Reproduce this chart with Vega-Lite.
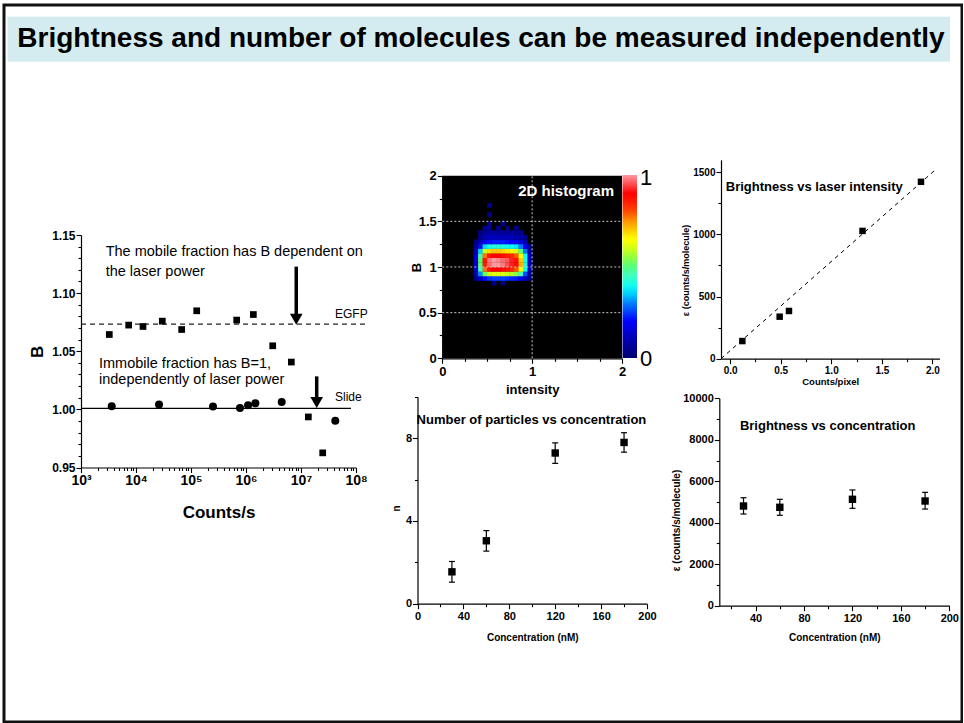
{
"$schema":"https://vega.github.io/schema/vega-lite/v6.json",
"width":958,"height":717,
"autosize":{"type":"none"},
"padding":{"left":4,"top":5,"right":1,"bottom":1},
"background":"white",
"config":{
 "view":{"stroke":"#111111","strokeWidth":3},
 "font":"Liberation Sans",
 "text":{"font":"Liberation Sans"},
 "axis":{"labelFont":"Liberation Sans","titleFont":"Liberation Sans","labelFontWeight":"bold","titleFontWeight":"bold","labelColor":"#000","titleColor":"#000","domainColor":"#000","tickColor":"#000","grid":false,"labelOverlap":false,"labelFlush":false,"titleBaseline":"middle","domainWidth":1.2,"tickWidth":1.1}
},
"resolve":{"scale":{"x":"independent","y":"independent"},"axis":{"x":"independent","y":"independent"}},
"layer":[
{
 "data":{"values":[{"x":0,"x2":1,"y":0,"y2":1}]},
 "encoding":{
  "x":{"field":"x","type":"quantitative","scale":{"domain":[0,1],"range":[3.5,946],"nice":false,"zero":false},"axis":null},
  "y":{"field":"y","type":"quantitative","scale":{"domain":[0,1],"range":[56.7,11.7],"nice":false,"zero":false},"axis":null}
 },
 "layer":[
  {"mark":{"type":"rect","fill":"#d4ecef"},"encoding":{"x2":{"field":"x2"},"y2":{"field":"y2"}}},
  {"data":{"values":[{"x":0.0104,"y":0.5,"t":"Brightness and number of molecules can be measured independently"}]},
   "mark":{"type":"text","align":"left","baseline":"middle","fontSize":28,"fontWeight":"bold","color":"#000"},
   "encoding":{"text":{"field":"t"}}}
 ]
},
{
 "encoding":{
  "x":{"field":"c","type":"quantitative","scale":{"type":"log","domain":[1000,100000000],"range":[77,352],"nice":false},
   "axis":{"orient":"bottom","offset":-254.5,
    "values":[1000,2000,3000,4000,5000,6000,7000,8000,9000,10000,20000,30000,40000,50000,60000,70000,80000,90000,100000,200000,300000,400000,500000,600000,700000,800000,900000,1000000,2000000,3000000,4000000,5000000,6000000,7000000,8000000,9000000,10000000,20000000,30000000,40000000,50000000,60000000,70000000,80000000,90000000,100000000],
    "labelExpr":"abs(log(datum.value)/LN10 - round(log(datum.value)/LN10)) < 0.01 ? '10' + ['⁰','¹','²','³','⁴','⁵','⁶','⁷','⁸','⁹'][round(log(datum.value)/LN10)] : ''",
    "tickSize":{"condition":{"test":"abs(log(datum.value)/LN10 - round(log(datum.value)/LN10)) < 0.01","value":5},"value":3},
    "labelFontSize":14,"labelPadding":1,"title":"Counts/s","titleFontSize":17,"titleY":45}},
  "y":{"field":"b","type":"quantitative","scale":{"domain":[0.95,1.15],"range":[462.5,230],"nice":false,"zero":false},
   "axis":{"orient":"left","offset":-77,
    "values":[0.95,0.96,0.97,0.98,0.99,1.0,1.01,1.02,1.03,1.04,1.05,1.06,1.07,1.08,1.09,1.1,1.11,1.12,1.13,1.14,1.15],
    "labelExpr":"abs(datum.value*20-round(datum.value*20))<0.01 ? format(datum.value,'.2f') : ''",
    "tickSize":{"condition":{"test":"abs(datum.value*20-round(datum.value*20))<0.01","value":5},"value":3},
    "labelFontSize":12,"labelPadding":1,"title":"B","titleFontSize":17,"titleX":-44}}
 },
 "layer":[
  {"data":{"values":[{"c":1000,"c2":150000000,"b":1.0733}]},"mark":{"type":"rule","strokeDash":[5,4],"strokeWidth":1.2,"color":"#222"},"encoding":{"x2":{"field":"c2"}}},
  {"data":{"values":[{"c":1000,"c2":81000000,"b":1.0009}]},"mark":{"type":"rule","strokeWidth":1.3,"color":"#000"},"encoding":{"x2":{"field":"c2"}}},
  {"data":{"values":[{"c":3270,"b":1.0644},{"c":7360,"b":1.0725},{"c":13400,"b":1.0713},{"c":30060,"b":1.0759},{"c":67700,"b":1.0687},{"c":127000,"b":1.0848},{"c":677000,"b":1.0768},{"c":1360000,"b":1.0816},{"c":3060000,"b":1.0547},{"c":6670000,"b":1.0407},{"c":13600000,"b":0.9935},{"c":24800000,"b":0.9626}]},
   "mark":{"type":"point","shape":"square","filled":true,"size":45,"color":"#000","opacity":1,"strokeWidth":0}},
  {"data":{"values":[{"c":3615,"b":1.0026},{"c":26200,"b":1.0043},{"c":251000,"b":1.0024},{"c":778000,"b":1.0012},{"c":1090000,"b":1.0035},{"c":1480000,"b":1.0052},{"c":4460000,"b":1.0064},{"c":42000000,"b":0.9903}]},
   "mark":{"type":"point","shape":"circle","filled":true,"size":64,"color":"#000","opacity":1,"strokeWidth":0}},
  {"data":{"values":[{"c":8200000,"b":1.1228,"b2":1.0805},{"c":19300000,"b":1.0284,"b2":1.0084}]},"mark":{"type":"rule","strokeWidth":3.5,"color":"#000"},"encoding":{"y2":{"field":"b2"}}},
  {"data":{"values":[{"c":8200000,"b":1.0775},{"c":19300000,"b":1.006}]},"mark":{"type":"point","shape":"triangle-down","filled":true,"size":160,"color":"#000","opacity":1,"strokeWidth":0}},
  {"data":{"values":[{"c":2810,"b":1.1354,"t":"The mobile fraction has B dependent on"},{"c":2810,"b":1.1185,"t":"the laser power"},{"c":2125,"b":1.0393,"t":"Immobile fraction has B=1,"},{"c":2125,"b":1.0255,"t":"independently of laser power"}]},
   "mark":{"type":"text","align":"left","baseline":"middle","fontSize":14.5,"color":"#000"},"encoding":{"text":{"field":"t"}}},
  {"data":{"values":[{"c":41500000,"b":1.0822,"t":"EGFP"},{"c":41500000,"b":1.0103,"t":"Slide"}]},
   "mark":{"type":"text","align":"left","baseline":"middle","fontSize":12,"color":"#000"},"encoding":{"text":{"field":"t"}}}
 ]
},
{
 "encoding":{
  "x":{"field":"i","type":"quantitative","scale":{"domain":[0,2],"range":[438.3,618],"nice":false,"zero":false},
   "axis":{"orient":"bottom","offset":-363.7,"values":[0,0.25,0.5,0.75,1,1.25,1.5,1.75,2],
    "labelExpr":"datum.value % 1 == 0 ? format(datum.value,'d') : ''",
    "tickSize":{"condition":{"test":"datum.value % 1 == 0","value":5},"value":3},
    "labelFontSize":13,"labelPadding":2,"title":"intensity","titleFontSize":13,"titleY":31.2}},
  "y":{"field":"b","type":"quantitative","scale":{"domain":[0,2],"range":[353.3,170.7],"nice":false,"zero":false},
   "axis":{"orient":"left","offset":-438.3,"values":[0,0.25,0.5,0.75,1,1.25,1.5,1.75,2],
    "labelExpr":"(datum.value*2) % 1 == 0 ? format(datum.value,'~g') : ''",
    "tickSize":{"condition":{"test":"(datum.value*2) % 1 == 0","value":5},"value":3},
    "labelFontSize":13,"labelPadding":1,"title":"B","titleFontSize":13,"titleX":-25.6}}
 },
 "layer":[
  {"data":{"values":[{"i":0,"i2":2,"b":0,"b2":2}]},"mark":{"type":"rect","fill":"#000"},"encoding":{"x2":{"field":"i2"},"y2":{"field":"b2"}}},
  {"data":{"values":[
{"i":0.575,"b":0.825,"v":0.04},{"i":0.675,"b":0.825,"v":0.03},
{"i":0.375,"b":0.875,"v":0.04},{"i":0.425,"b":0.875,"v":0.13},{"i":0.475,"b":0.875,"v":0.21},{"i":0.525,"b":0.875,"v":0.24},{"i":0.575,"b":0.875,"v":0.25},{"i":0.625,"b":0.875,"v":0.25},{"i":0.675,"b":0.875,"v":0.25},{"i":0.725,"b":0.875,"v":0.24},{"i":0.775,"b":0.875,"v":0.23},{"i":0.825,"b":0.875,"v":0.22},{"i":0.875,"b":0.875,"v":0.18},{"i":0.925,"b":0.875,"v":0.1},{"i":0.975,"b":0.875,"v":0.03},
{"i":0.375,"b":0.925,"v":0.09},{"i":0.425,"b":0.925,"v":0.31},{"i":0.475,"b":0.925,"v":0.53},{"i":0.525,"b":0.925,"v":0.6},{"i":0.575,"b":0.925,"v":0.62},{"i":0.625,"b":0.925,"v":0.62},{"i":0.675,"b":0.925,"v":0.61},{"i":0.725,"b":0.925,"v":0.59},{"i":0.775,"b":0.925,"v":0.57},{"i":0.825,"b":0.925,"v":0.55},{"i":0.875,"b":0.925,"v":0.45},{"i":0.925,"b":0.925,"v":0.26},{"i":0.975,"b":0.925,"v":0.07},
{"i":0.375,"b":0.975,"v":0.14},{"i":0.425,"b":0.975,"v":0.45},{"i":0.475,"b":0.975,"v":0.77},{"i":0.525,"b":0.975,"v":0.87},{"i":0.575,"b":0.975,"v":0.9},{"i":0.625,"b":0.975,"v":0.9},{"i":0.675,"b":0.975,"v":0.88},{"i":0.725,"b":0.975,"v":0.86},{"i":0.775,"b":0.975,"v":0.83},{"i":0.825,"b":0.975,"v":0.79},{"i":0.875,"b":0.975,"v":0.65},{"i":0.925,"b":0.975,"v":0.38},{"i":0.975,"b":0.975,"v":0.11},
{"i":0.375,"b":1.025,"v":0.15},{"i":0.425,"b":1.025,"v":0.5},{"i":0.475,"b":1.025,"v":0.85},{"i":0.525,"b":1.025,"v":0.97},{"i":0.575,"b":1.025,"v":1},{"i":0.625,"b":1.025,"v":1},{"i":0.675,"b":1.025,"v":0.98},{"i":0.725,"b":1.025,"v":0.95},{"i":0.775,"b":1.025,"v":0.92},{"i":0.825,"b":1.025,"v":0.88},{"i":0.875,"b":1.025,"v":0.72},{"i":0.925,"b":1.025,"v":0.42},{"i":0.975,"b":1.025,"v":0.12},
{"i":0.375,"b":1.075,"v":0.16},{"i":0.425,"b":1.075,"v":0.52},{"i":0.475,"b":1.075,"v":0.86},{"i":0.525,"b":1.075,"v":0.98},{"i":0.575,"b":1.075,"v":1},{"i":0.625,"b":1.075,"v":0.99},{"i":0.675,"b":1.075,"v":0.97},{"i":0.725,"b":1.075,"v":0.96},{"i":0.775,"b":1.075,"v":0.92},{"i":0.825,"b":1.075,"v":0.87},{"i":0.875,"b":1.075,"v":0.7},{"i":0.925,"b":1.075,"v":0.4},{"i":0.975,"b":1.075,"v":0.11},
{"i":0.375,"b":1.125,"v":0.14},{"i":0.425,"b":1.125,"v":0.45},{"i":0.475,"b":1.125,"v":0.77},{"i":0.525,"b":1.125,"v":0.87},{"i":0.575,"b":1.125,"v":0.9},{"i":0.625,"b":1.125,"v":0.9},{"i":0.675,"b":1.125,"v":0.88},{"i":0.725,"b":1.125,"v":0.86},{"i":0.775,"b":1.125,"v":0.83},{"i":0.825,"b":1.125,"v":0.79},{"i":0.875,"b":1.125,"v":0.65},{"i":0.925,"b":1.125,"v":0.38},{"i":0.975,"b":1.125,"v":0.11},
{"i":0.375,"b":1.175,"v":0.1},{"i":0.425,"b":1.175,"v":0.35},{"i":0.475,"b":1.175,"v":0.6},{"i":0.525,"b":1.175,"v":0.68},{"i":0.575,"b":1.175,"v":0.7},{"i":0.625,"b":1.175,"v":0.7},{"i":0.675,"b":1.175,"v":0.69},{"i":0.725,"b":1.175,"v":0.67},{"i":0.775,"b":1.175,"v":0.64},{"i":0.825,"b":1.175,"v":0.62},{"i":0.875,"b":1.175,"v":0.5},{"i":0.925,"b":1.175,"v":0.29},{"i":0.975,"b":1.175,"v":0.08},
{"i":0.375,"b":1.225,"v":0.06},{"i":0.425,"b":1.225,"v":0.21},{"i":0.475,"b":1.225,"v":0.36},{"i":0.525,"b":1.225,"v":0.41},{"i":0.575,"b":1.225,"v":0.42},{"i":0.625,"b":1.225,"v":0.42},{"i":0.675,"b":1.225,"v":0.41},{"i":0.725,"b":1.225,"v":0.4},{"i":0.775,"b":1.225,"v":0.39},{"i":0.825,"b":1.225,"v":0.37},{"i":0.875,"b":1.225,"v":0.3},{"i":0.925,"b":1.225,"v":0.18},{"i":0.975,"b":1.225,"v":0.05},
{"i":0.375,"b":1.275,"v":0.03},{"i":0.425,"b":1.275,"v":0.11},{"i":0.475,"b":1.275,"v":0.19},{"i":0.525,"b":1.275,"v":0.21},{"i":0.575,"b":1.275,"v":0.22},{"i":0.625,"b":1.275,"v":0.22},{"i":0.675,"b":1.275,"v":0.22},{"i":0.725,"b":1.275,"v":0.21},{"i":0.775,"b":1.275,"v":0.2},{"i":0.825,"b":1.275,"v":0.19},{"i":0.875,"b":1.275,"v":0.16},{"i":0.925,"b":1.275,"v":0.09},
{"i":0.425,"b":1.325,"v":0.06},{"i":0.475,"b":1.325,"v":0.1},{"i":0.525,"b":1.325,"v":0.12},{"i":0.575,"b":1.325,"v":0.12},{"i":0.625,"b":1.325,"v":0.12},{"i":0.675,"b":1.325,"v":0.12},{"i":0.725,"b":1.325,"v":0.11},{"i":0.775,"b":1.325,"v":0.11},{"i":0.825,"b":1.325,"v":0.1},{"i":0.875,"b":1.325,"v":0.09},{"i":0.925,"b":1.325,"v":0.05},
{"i":0.425,"b":1.375,"v":0.035},{"i":0.475,"b":1.375,"v":0.06},{"i":0.525,"b":1.375,"v":0.07},{"i":0.575,"b":1.375,"v":0.07},{"i":0.625,"b":1.375,"v":0.07},{"i":0.675,"b":1.375,"v":0.07},{"i":0.725,"b":1.375,"v":0.07},{"i":0.775,"b":1.375,"v":0.06},{"i":0.825,"b":1.375,"v":0.06},{"i":0.875,"b":1.375,"v":0.05},
{"i":0.475,"b":1.425,"v":0.05},{"i":0.525,"b":1.425,"v":0.06},{"i":0.625,"b":1.425,"v":0.05},{"i":0.725,"b":1.425,"v":0.04},{"i":0.825,"b":1.425,"v":0.04},
{"i":0.525,"b":1.475,"v":0.04},{"i":0.675,"b":1.475,"v":0.04},
{"i":0.525,"b":1.575,"v":0.04},{"i":0.525,"b":1.675,"v":0.04}
  ]},
   "mark":{"type":"point","shape":"square","filled":true,"size":23,"opacity":1,"strokeWidth":0},
   "encoding":{"color":{"field":"v","type":"quantitative",
     "scale":{"domain":[0,0.1,0.2,0.3,0.38,0.45,0.52,0.58,0.65,0.75,0.82,0.9,1],"range":["#000070","#0000b0","#0000ff","#0080ff","#00ffff","#40ffc0","#60ff60","#c0ff20","#ffff00","#ff9000","#ff3000","#ff0000","#ff9aa0"],"interpolate":"rgb"},
     "legend":{"orient":"none","legendX":618.5,"legendY":170,"direction":"vertical","gradientLength":183,"gradientThickness":14.5,"title":null,"values":[0,1],"labelExpr":"''","padding":0,"gradientStrokeWidth":0}}}},
  {"data":{"values":[{"i":1,"b":0,"b2":2}]},"mark":{"type":"rule","color":"#c8c8c8","strokeDash":[2,2],"strokeWidth":1},"encoding":{"y2":{"field":"b2"}}},
  {"data":{"values":[{"i":0,"i2":2,"b":0.5},{"i":0,"i2":2,"b":1},{"i":0,"i2":2,"b":1.5}]},"mark":{"type":"rule","color":"#c8c8c8","strokeDash":[2,2],"strokeWidth":1},"encoding":{"x2":{"field":"i2"}}},
  {"data":{"values":[{"i":1.911,"b":1.832,"t":"2D histogram"}]},"mark":{"type":"text","align":"right","baseline":"middle","fontSize":15,"fontWeight":"bold","color":"#fff"},"encoding":{"text":{"field":"t"}}},
  {"data":{"values":[{"i":2.2,"b":1.975,"t":"1"},{"i":2.2,"b":-0.005,"t":"0"}]},"mark":{"type":"text","align":"left","baseline":"middle","fontSize":22,"color":"#000"},"encoding":{"text":{"field":"t"}}}
 ]
},
{
 "encoding":{
  "x":{"field":"x","type":"quantitative","scale":{"domain":[-0.09,2.07],"range":[717,935.5],"nice":false,"zero":false},
   "axis":{"orient":"bottom","offset":-363.3,"values":[0,0.25,0.5,0.75,1,1.25,1.5,1.75,2],
    "labelExpr":"(datum.value*2) % 1 == 0 ? format(datum.value,'.1f') : ''",
    "tickSize":{"condition":{"test":"(datum.value*2) % 1 == 0","value":5},"value":3},
    "labelFontSize":10,"labelPadding":2,"title":"Counts/pixel","titleFontSize":9.5,"titleY":22.3}},
  "y":{"field":"y","type":"quantitative","scale":{"domain":[0,1600],"range":[353.7,154.8],"nice":false,"zero":false},
   "axis":{"orient":"left","offset":-717,"values":[0,250,500,750,1000,1250,1500],
    "labelExpr":"datum.value % 500 == 0 ? format(datum.value,'d') : ''",
    "tickSize":{"condition":{"test":"datum.value % 500 == 0","value":5},"value":3},
    "labelFontSize":10,"labelPadding":1,"title":"ε (counts/s/molecule)","titleFontSize":9,"titleX":-35.5,"titleY":265}}
 },
 "layer":[
  {"data":{"values":[{"x":-0.09,"y":0,"x2":2.03,"y2":1520}]},"mark":{"type":"rule","strokeDash":[4,4],"strokeWidth":1,"color":"#000"},"encoding":{"x2":{"field":"x2"},"y2":{"field":"y2"}}},
  {"data":{"values":[{"x":0.121,"y":142},{"x":0.49,"y":338},{"x":0.582,"y":384},{"x":1.309,"y":1028},{"x":1.887,"y":1423}]},
   "mark":{"type":"point","shape":"square","filled":true,"size":42,"color":"#000","opacity":1,"strokeWidth":0}},
  {"data":{"values":[{"x":-0.043,"y":1384,"t":"Brightness vs laser intensity"}]},"mark":{"type":"text","align":"left","baseline":"middle","fontSize":13,"fontWeight":"bold","color":"#000"},"encoding":{"text":{"field":"t"}}}
 ]
},
{
 "data":{"values":[{"x":30,"y":1.54,"lo":1.04,"hi":2.04},{"x":60,"y":3.04,"lo":2.54,"hi":3.53},{"x":120,"y":7.28,"lo":6.78,"hi":7.77},{"x":180,"y":7.79,"lo":7.32,"hi":8.26}]},
 "encoding":{
  "x":{"field":"x","type":"quantitative","scale":{"domain":[0,200],"range":[413.5,643],"nice":false,"zero":false},
   "axis":{"orient":"bottom","offset":-118.3,"values":[0,20,40,60,80,100,120,140,160,180,200],
    "labelExpr":"datum.value % 40 == 0 ? format(datum.value,'d') : ''",
    "tickSize":{"condition":{"test":"datum.value % 40 == 0","value":5},"value":3},
    "labelFontSize":11,"labelPadding":2,"title":"Concentration (nM)","titleFontSize":10,"titleY":33.3}},
  "y":{"field":"y","type":"quantitative","scale":{"domain":[0,10],"range":[598.7,391.7],"nice":false,"zero":false},
   "axis":{"orient":"left","offset":-413.5,"values":[0,2,4,6,8,10],
    "labelExpr":"datum.value % 4 == 0 ? format(datum.value,'d') : ''",
    "tickSize":{"condition":{"test":"datum.value % 4 == 0","value":5},"value":3},
    "labelFontSize":11,"labelPadding":1,"title":"n","titleFontSize":10,"titleX":-21.2,"titleY":503}}
 },
 "layer":[
  {"mark":{"type":"rule","strokeWidth":1.2,"color":"#000"},"encoding":{"y":{"field":"lo","type":"quantitative"},"y2":{"field":"hi"}}},
  {"mark":{"type":"tick","orient":"horizontal","size":6,"thickness":1.2,"color":"#000","opacity":1},"encoding":{"y":{"field":"lo","type":"quantitative"}}},
  {"mark":{"type":"tick","orient":"horizontal","size":6,"thickness":1.2,"color":"#000","opacity":1},"encoding":{"y":{"field":"hi","type":"quantitative"}}},
  {"mark":{"type":"point","shape":"square","filled":true,"size":55,"color":"#000","opacity":1,"strokeWidth":0}},
  {"data":{"values":[{"x":99.3,"y":8.87,"t":"Number of particles vs concentration"}]},"mark":{"type":"text","align":"center","baseline":"middle","fontSize":13,"fontWeight":"bold","color":"#000"},"encoding":{"text":{"field":"t"}}}
 ]
},
{
 "data":{"values":[{"x":30,"y":4807,"lo":4420,"hi":5205},{"x":60,"y":4744,"lo":4360,"hi":5130},{"x":120,"y":5130,"lo":4695,"hi":5580},{"x":180,"y":5048,"lo":4660,"hi":5465}]},
 "encoding":{
  "x":{"field":"x","type":"quantitative","scale":{"domain":[10,200],"range":[715.3,945.3],"nice":false,"zero":false},
   "axis":{"orient":"bottom","offset":-116.3,"values":[20,40,60,80,100,120,140,160,180,200],
    "labelExpr":"datum.value % 40 == 0 ? format(datum.value,'d') : ''",
    "tickSize":{"condition":{"test":"datum.value % 40 == 0","value":5},"value":3},
    "labelFontSize":11,"labelPadding":2,"title":"Concentration (nM)","titleFontSize":10,"titleY":31.3}},
  "y":{"field":"y","type":"quantitative","scale":{"domain":[0,10000],"range":[600.7,393.3],"nice":false,"zero":false},
   "axis":{"orient":"left","offset":-715.3,"values":[0,1000,2000,3000,4000,5000,6000,7000,8000,9000,10000],
    "labelExpr":"datum.value % 2000 == 0 ? format(datum.value,'d') : ''",
    "tickSize":{"condition":{"test":"datum.value % 2000 == 0","value":5},"value":3},
    "labelFontSize":11,"labelPadding":1,"title":"ε (counts/s/molecule)","titleFontSize":10,"titleX":-43,"titleY":515}}
 },
 "layer":[
  {"mark":{"type":"rule","strokeWidth":1.2,"color":"#000"},"encoding":{"y":{"field":"lo","type":"quantitative"},"y2":{"field":"hi"}}},
  {"mark":{"type":"tick","orient":"horizontal","size":6,"thickness":1.2,"color":"#000","opacity":1},"encoding":{"y":{"field":"lo","type":"quantitative"}}},
  {"mark":{"type":"tick","orient":"horizontal","size":6,"thickness":1.2,"color":"#000","opacity":1},"encoding":{"y":{"field":"hi","type":"quantitative"}}},
  {"mark":{"type":"point","shape":"square","filled":true,"size":55,"color":"#000","opacity":1,"strokeWidth":0}},
  {"data":{"values":[{"x":99.5,"y":8679,"t":"Brightness vs concentration"}]},"mark":{"type":"text","align":"center","baseline":"middle","fontSize":13,"fontWeight":"bold","color":"#000"},"encoding":{"text":{"field":"t"}}}
 ]
}
]
}
